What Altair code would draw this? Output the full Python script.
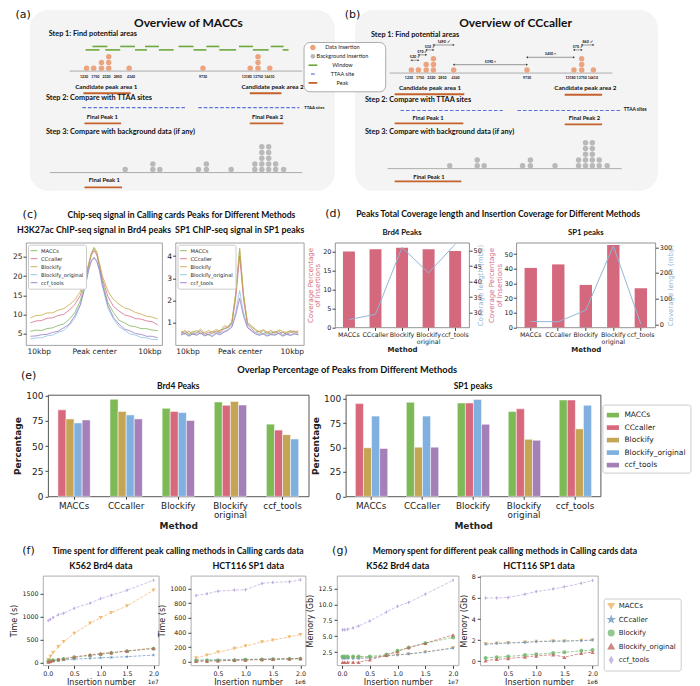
import altair as alt
import pandas as pd

KX, KY = 0.965, 0.985


def sx(v):
    return round(v * KX, 1)


def sy(v):
    return round(v * KY, 1)


# ---------------- categories and colours ----------------
METHODS = ["MACCs", "CCcaller", "Blockify", "Blockify_original", "ccf_tools"]
GROUPS = ["MACCs", "CCcaller", "Blockify", "Blockify original", "ccf_tools"]
LINE_COLORS = ["#7fb85f", "#d7708a", "#c9a94a", "#8ec2e2", "#9a7dc2"]
BAR_COLORS = ["#7db954", "#d8697c", "#c4a555", "#7fb0e0", "#a47fb8"]
RUN_COLORS = ["#f0ae5e", "#5d8fc2", "#6fb86a", "#c0605a", "#b8a2dc"]
STAR = "M0,-1L0.235,-0.324L0.951,-0.309L0.38,0.124L0.588,0.809L0,0.4L-0.588,0.809L-0.38,0.124L-0.951,-0.309L-0.235,-0.324Z"
THIN_DIAMOND = "M0,-1L0.6,0L0,1L-0.6,0Z"
RUN_SHAPES = ["triangle-down", STAR, "circle", "triangle-up", THIN_DIAMOND]
PINK = "#d4697d"
SKY = "#93b6d6"
ORANGE_DOT = "#eba47f"
GREY_DOT = "#b9b9b9"
PEAK_ORANGE = "#c4622c"
WIN_GREEN = "#6da83d"
TTAA_BLUE = "#5b72d8"
LBL_EXPR = "datum.value == 'Blockify original' ? ['Blockify', 'original'] : datum.value"

# ---------------- (a)/(b) schematic data ----------------
INS_POS = [1230, 1750, 2320, 2850, 4340, 9730, 13180, 13750, 14610]
INS_COUNT = [1, 1, 2, 3, 1, 1, 1, 3, 1]
INS_LABEL_X = [1050, 1870, 2690, 3510, 4480, 9730, 12930, 13750, 14570]
BG_POS = [4050, 6070, 6580, 9400, 9980, 11790, 13520, 14030, 14530, 15040, 15620]
BG_COUNT = [1, 2, 1, 1, 2, 1, 2, 5, 5, 2, 1]
WIN_START = [1660, 3690, 5500, 7950, 9980, 12360, 14680, 1160, 2600, 4770, 6510, 9040, 10920, 13380, 15550]
WIN_END = [2750, 4770, 6510, 9040, 10920, 13380, 15620, 2170, 3690, 5640, 7590, 9980, 12150, 14530, 15980]
WIN_LEVEL = [37, 37, 37, 37, 37, 37, 37, 40.5, 40.5, 40.5, 40.5, 40.5, 40.5, 40.5, 40.5]
GAP_FROM = [1230, 1750, 2320, 2850, 4340, 9730, 13180, 13750]
GAP_TO = [1750, 2320, 2850, 4340, 9730, 13180, 13750, 14610]
GAP_LABEL = ["520 ✓", "570 ✓", "530 ✓", "1490 ✓", "5390 ×", "3450 ×", "570 ✓", "860 ✓"]
GAP_LEVEL = [51, 45.5, 40.5, 35.5, 55.5, 48, 40.5, 35.5]

A_LABELS = ["(a)", "Overview of MACCs", "Step 1: Find potential areas", "Candidate peak area 1",
            "Candidate peak area 2", "Step 2: Compare with TTAA sites", "TTAA sites", "Final Peak 1",
            "Final Peak 2", "Step 3: Compare with background data (if any)", "Final Peak 1"]
A_LX = [-3400, 8670, -1530, 2670, 14810, -1740, 17130, 2380, 14450, -1740, 2520]
A_LY = [5, 13, 24, 78.5, 78.5, 89, 99, 109, 109, 124, 173]
A_LSIZE = [11, 12, 7.3, 6.3, 6.3, 7.3, 4.2, 5.8, 5.8, 7.3, 5.8]
LSTYLE = ["letter", "center", "left", "center", "center", "left", "left", "center", "center", "left", "center"]
A_BASE_START = [0, -1450]
A_BASE_END = [16980, 16980]
A_BASE_Y = [62, 165]
A_TTAA_START = [930, 9390]
A_TTAA_END = [8450, 16770]
A_TTAA_Y = [99, 99]
A_UL_START = [1000, 13150, 1075, 13150, 1080]
A_UL_END = [4450, 15460, 3750, 15600, 3820]
A_UL_Y = [84.5, 84.5, 115, 115, 180]

B_LABELS = ["(b)", "Overview of CCcaller", "Step 1: Find potential areas", "Candidate peak area 1",
            "Candidate peak area 2", "Step 2: Compare with TTAA sites", "TTAA sites", "Final Peak 1",
            "Final Peak 2", "Step 3: Compare with background data (if any)", "Final Peak 1"]
B_LX = [-3100, 8885, -1740, 2600, 14020, -2180, 16840, 2450, 13950, -2180, 2520]
B_LY = [5, 13, 25, 79, 79.5, 91, 102, 110, 110, 124, 170]
B_LSIZE = [11, 12, 7.3, 6.3, 6.3, 7.3, 4.8, 5.8, 5.8, 7.3, 5.8]
B_BASE_START = [-370, -510]
B_BASE_END = [16000, 16690]
B_BASE_Y = [64, 161]
B_TTAA_START = [430, 9030]
B_TTAA_END = [7950, 16620]
B_TTAA_Y = [102, 102]
B_UL_START = [0, 12500, 0, 12500, 0]
B_UL_END = [5120, 15250, 5050, 15250, 4900]
B_UL_Y = [85.5, 86, 115, 116, 174]

LEG_LABELS = ["Data Insertion", "Background Insertion", "Window", "TTAA site", "Peak"]
LEG_Y = [38, 47, 56, 65, 74]

# ---------------- (c) ChIP-seq profiles ----------------
C_POS = [-11.5, -10.5, -9.5, -8.5, -7.5, -6.5, -5.5, -4.5, -3.5, -2.5, -1.5, -1.0, -0.5, 0.0,
         0.5, 1.0, 1.5, 2.5, 3.5, 4.5, 5.5, 6.5, 7.5, 8.5, 9.5, 10.5, 11.5]
BRD4_MACCS = [5.6, 5.9, 5.8, 6.3, 6.5, 7.1, 7.5, 8.7, 10.4, 13.5, 18.9, 22.7, 25.8, 27.2, 25.9, 22.4, 18.5, 13.1, 10.5, 8.5, 7.8, 7.0, 6.8, 6.3, 6.3, 5.9, 5.8]
BRD4_CCCALLER = [7.8, 8.3, 8.4, 9.0, 9.1, 9.7, 10.0, 11.1, 12.5, 14.9, 19.6, 22.8, 25.4, 26.6, 25.5, 22.7, 19.3, 14.7, 12.1, 10.9, 9.9, 9.5, 8.9, 8.8, 8.3, 8.1, 7.3]
BRD4_BLOCKIFY = [9.1, 9.7, 9.8, 10.4, 10.4, 11.1, 11.5, 12.5, 13.7, 15.9, 20.1, 23.1, 26.0, 27.5, 26.3, 23.2, 20.1, 16.1, 13.9, 12.7, 11.7, 11.3, 10.5, 10.1, 9.5, 9.3, 8.8]
BRD4_BLOCKIFY_ORIG = [3.6, 3.9, 3.9, 4.4, 4.6, 5.3, 5.8, 7.1, 8.9, 12.3, 17.8, 21.4, 24.0, 25.0, 24.0, 21.2, 17.4, 11.7, 8.8, 6.8, 5.9, 4.9, 4.6, 4.0, 3.9, 3.5, 3.4]
BRD4_CCF = [4.3, 4.4, 4.7, 4.8, 5.3, 5.6, 6.5, 7.4, 9.6, 12.5, 18.0, 21.6, 23.9, 24.7, 23.8, 21.5, 17.8, 12.4, 9.2, 7.5, 6.2, 5.7, 5.0, 4.8, 4.3, 4.3, 3.9]

SP1_POS = [-11.25, -10.5, -9.75, -9.0, -8.25, -7.5, -6.75, -6.0, -5.25, -4.5, -3.75, -3.0, -2.25, -1.5,
           -0.75, 0.0, 0.75, 1.5, 2.25, 3.0, 3.75, 4.5, 5.25, 6.0, 6.75, 7.5, 8.25, 9.0, 9.75, 10.5, 11.25]
SP1_MACCS = [0.52, 0.61, 0.47, 0.56, 0.66, 0.50, 0.58, 0.44, 0.62, 0.53, 0.67, 0.72, 0.80, 1.00, 2.30, 4.30, 2.20, 0.98, 0.82, 0.68, 0.52, 0.66, 0.49, 0.59, 0.53, 0.64, 0.47, 0.57, 0.62, 0.54, 0.60]
SP1_CCCALLER = [0.60, 0.50, 0.63, 0.48, 0.55, 0.65, 0.47, 0.58, 0.52, 0.64, 0.55, 0.76, 0.78, 0.95, 2.10, 4.00, 2.05, 0.92, 0.74, 0.57, 0.63, 0.50, 0.60, 0.48, 0.62, 0.52, 0.58, 0.50, 0.56, 0.63, 0.51]
SP1_BLOCKIFY = [0.58, 0.66, 0.52, 0.62, 0.57, 0.72, 0.55, 0.66, 0.58, 0.70, 0.62, 0.86, 0.84, 1.05, 2.35, 4.35, 2.30, 1.02, 0.88, 0.72, 0.60, 0.70, 0.58, 0.66, 0.55, 0.68, 0.62, 0.57, 0.66, 0.60, 0.64]
SP1_BLOCKIFY_ORIG = [0.48, 0.55, 0.42, 0.52, 0.46, 0.58, 0.44, 0.50, 0.43, 0.56, 0.50, 0.62, 0.70, 0.85, 1.50, 2.45, 1.45, 0.82, 0.66, 0.55, 0.46, 0.54, 0.44, 0.50, 0.47, 0.55, 0.42, 0.50, 0.46, 0.52, 0.48]
SP1_CCF = [0.45, 0.52, 0.40, 0.50, 0.44, 0.54, 0.41, 0.48, 0.38, 0.52, 0.46, 0.58, 0.66, 0.80, 1.35, 2.10, 1.30, 0.78, 0.64, 0.50, 0.44, 0.50, 0.40, 0.47, 0.44, 0.52, 0.40, 0.48, 0.43, 0.50, 0.46]

# ---------------- (d) coverage ----------------
D_BRD4_PCT = [20.0, 20.6, 21.0, 20.6, 20.1]
D_BRD4_LEN = [27.8, 29.5, 51.0, 42.8, 52.0]
D_SP1_PCT = [40.6, 43.0, 29.0, 56.2, 26.8]
D_SP1_LEN = [11, 10, 55, 305, 1]

# ---------------- (e) overlap (4 other methods per group) ----------------
E_BRD4 = [[86, 77, 73, 76], [96.5, 84.5, 81, 77], [87.5, 84.5, 83.3, 75.4], [93.8, 90.5, 94.4, 90.8], [71.8, 65.9, 61.3, 57]]
E_SP1 = [[95, 49.7, 82.2, 49], [96.3, 50.3, 82.2, 50.3], [95.6, 95.6, 99.3, 73.8], [86.9, 89.6, 58.4, 57.4], [98.7, 98.7, 69.1, 93.3]]

# ---------------- (f)/(g) run time and memory ----------------
RUN_X_BRD4 = [100000, 500000, 1000000, 2000000, 3000000, 5000000, 8000000, 10000000, 12000000, 15000000, 20000000]
RUN_X_SP1 = [100000, 300000, 500000, 800000, 1000000, 1300000, 1500000, 1800000, 2000000]
TIME_BRD4 = [
    [60, 130, 210, 340, 450, 630, 850, 970, 1080, 1230, 1570],
    [20, 30, 35, 45, 55, 70, 90, 100, 110, 125, 160],
    [25, 35, 45, 60, 75, 110, 150, 180, 205, 245, 300],
    [10, 20, 40, 65, 80, 120, 165, 190, 215, 250, 310],
    [910, 940, 975, 1040, 1070, 1180, 1290, 1390, 1460, 1570, 1790],
]
TIME_SP1 = [
    [50, 90, 130, 180, 215, 270, 295, 340, 370],
    [25, 26, 28, 30, 32, 36, 38, 42, 46],
    [15, 16, 18, 22, 26, 30, 33, 38, 42],
    [5, 8, 12, 20, 25, 30, 35, 40, 45],
    [905, 930, 965, 980, 985, 1070, 1085, 1095, 1120],
]
MEM_BRD4 = [
    [1.6, 1.6, 1.6, 1.6, 1.6, 1.6, 1.9, 2.0, 2.2, 2.5, 3.2],
    [1.5, 1.5, 1.5, 1.5, 1.5, 1.6, 1.9, 2.1, 2.2, 2.5, 3.1],
    [1.8, 1.8, 1.8, 1.8, 1.8, 1.8, 2.1, 2.7, 3.2, 3.9, 4.8],
    [0.9, 0.9, 0.9, 0.9, 0.9, 1.3, 2.0, 2.6, 3.2, 3.9, 5.2],
    [6.0, 6.0, 6.1, 6.3, 6.6, 7.4, 8.8, 9.7, 10.3, 11.6, 13.8],
]
MEM_SP1 = [
    [1.65, 1.7, 1.75, 1.8, 1.88, 1.92, 1.92, 1.97, 2.0],
    [1.6, 1.68, 1.72, 1.78, 1.85, 1.9, 1.9, 1.95, 2.0],
    [0.3, 0.38, 0.45, 0.58, 0.66, 0.78, 0.85, 0.98, 1.05],
    [0.05, 0.18, 0.25, 0.4, 0.5, 0.62, 0.38, 0.75, 0.85],
    [6.0, 6.0, 6.05, 6.35, 6.6, 6.85, 7.05, 7.4, 7.65],
]

TITLE_C = "Chip-seq signal in Calling cards Peaks for Different Methods"
TITLE_D = "Peaks Total Coverage length and Insertion Coverage for Different Methods"
TITLE_E = "Overlap Percentage of Peaks from Different Methods"
TITLE_F = "Time spent for different peak calling methods in Calling cards data"
TITLE_G = "Memory spent for different peak calling methods in Calling cards data"


# ======================= helpers =======================
def note(text, x, y, size, weight="normal", font="DejaVu Sans", align="center", color="#111"):
    df = pd.DataFrame({"t": [text]})
    return alt.Chart(df).mark_text(font=font, fontSize=size, fontWeight=weight, align=align,
                                   baseline="middle", color=color).encode(
        text="t:N", x=alt.value(x), y=alt.value(y))


def subtitle(text, w, dy, size, dx=0):
    return note(text, w / 2 + dx, dy, size, "bold", "Lato")


def spacer(w):
    return alt.Chart(pd.DataFrame({"v": [0]})).mark_point(size=0, opacity=0).encode(
        x=alt.value(0.5), y=alt.value(0.5)).properties(
        width=w, height=1, view=alt.ViewBackground(stroke="transparent", fill="transparent"))


SCH_X = alt.Scale(domain=[-2900, 19300], nice=False, zero=False)
SCH_Y = alt.Scale(domain=[0, 183], nice=False, zero=False, reverse=True)


def sch_x(f="x"):
    return alt.X(f + ":Q", scale=SCH_X, axis=None)


def sch_y(f="y"):
    return alt.Y(f + ":Q", scale=SCH_Y, axis=None)


def seg_layer(starts, ends, levels, color, width, dash=None):
    df = pd.DataFrame({"x": starts, "x2": ends, "y": levels})
    props = dict(color=color, strokeWidth=width)
    if dash is not None:
        props["strokeDash"] = dash
    return alt.Chart(df).mark_rule(**props).encode(x=sch_x(), x2="x2:Q", y=sch_y())


def stack_layer(pos, counts, base, color, size):
    xs, ys = [], []
    for p, c in zip(pos, counts):
        for k in range(c):
            xs.append(p)
            ys.append(base - 3.0 - 5.8 * k)
    df = pd.DataFrame({"x": xs, "y": ys})
    return alt.Chart(df).mark_circle(color=color, size=size, opacity=1).encode(x=sch_x(), y=sch_y())


def text_layer(labels, xs, ys, sizes, weight="bold", align="center", font="Lato", color="#111"):
    df = pd.DataFrame({"x": xs, "y": ys, "t": labels, "s": sizes})
    return alt.Chart(df).mark_text(font=font, fontWeight=weight, align=align, baseline="middle",
                                   color=color).encode(
        x=sch_x(), y=sch_y(), text="t:N", size=alt.Size("s:Q", scale=None))


def styled_texts(labels, xs, ys, sizes, styles):
    spec = {"letter": ("normal", "center", "DejaVu Sans"),
            "center": ("bold", "center", "Lato"),
            "left": ("bold", "left", "Lato")}
    out = []
    for key, (w, a, f) in spec.items():
        idx = [i for i, s in enumerate(styles) if s == key]
        if idx:
            out.append(text_layer([labels[i] for i in idx], [xs[i] for i in idx],
                                  [ys[i] for i in idx], [sizes[i] for i in idx], w, a, f))
    return out


SCH_VIEW = alt.ViewBackground(fill="#f4f4f4", stroke="#f4f4f4", cornerRadius=18)


def panel_a():
    layers = [
        seg_layer(A_BASE_START, A_BASE_END, A_BASE_Y, "#9a9a9a", 0.8),
        seg_layer(WIN_START, WIN_END, WIN_LEVEL, WIN_GREEN, 1.6),
        seg_layer(A_TTAA_START, A_TTAA_END, A_TTAA_Y, TTAA_BLUE, 1.2, [3.5, 2]),
        seg_layer(A_UL_START, A_UL_END, A_UL_Y, PEAK_ORANGE, 1.8),
        stack_layer(INS_POS, INS_COUNT, 62, ORANGE_DOT, 30),
        stack_layer(BG_POS, BG_COUNT, 165, GREY_DOT, 30),
        text_layer([str(p) for p in INS_POS], INS_LABEL_X, [67.5] * len(INS_POS), [3.5] * len(INS_POS)),
    ] + styled_texts(A_LABELS, A_LX, A_LY, A_LSIZE, LSTYLE)
    return alt.layer(*layers).properties(width=sx(315), height=sy(183), view=SCH_VIEW)


def panel_b():
    mids = [(a + b) / 2 for a, b in zip(GAP_FROM, GAP_TO)]
    heads = pd.DataFrame({"x": GAP_FROM + GAP_TO, "y": GAP_LEVEL + GAP_LEVEL,
                          "sh": ["triangle-left"] * len(GAP_FROM) + ["triangle-right"] * len(GAP_TO)})
    head_layer = alt.Chart(heads).mark_point(filled=True, color="#3a3a3a", size=5, opacity=1).encode(
        x=sch_x(), y=sch_y(), shape=alt.Shape("sh:N", scale=None))
    leg_box = alt.Chart(pd.DataFrame({"x": [-6660], "x2": [-660], "y": [33], "y2": [83]})).mark_rect(
        fill="white", stroke="#8a8a8a", strokeWidth=0.7, cornerRadius=6).encode(
        x=sch_x(), x2="x2:Q", y=sch_y(), y2="y2:Q")
    leg_dots = alt.Chart(pd.DataFrame({"x": [-6010, -6010], "y": LEG_Y[:2], "c": [ORANGE_DOT, GREY_DOT],
                                       "s": [30, 22]})).mark_circle(opacity=1).encode(
        x=sch_x(), y=sch_y(), color=alt.Color("c:N", scale=None), size=alt.Size("s:Q", scale=None))
    layers = [
        seg_layer(B_BASE_START, B_BASE_END, B_BASE_Y, "#9a9a9a", 0.8),
        seg_layer(B_TTAA_START, B_TTAA_END, B_TTAA_Y, TTAA_BLUE, 1.2, [3.5, 2]),
        seg_layer(B_UL_START, B_UL_END, B_UL_Y, PEAK_ORANGE, 1.8),
        seg_layer(GAP_FROM, GAP_TO, GAP_LEVEL, "#3a3a3a", 0.5),
        head_layer,
        text_layer(GAP_LABEL, mids, [v - 3.2 for v in GAP_LEVEL], [3.6] * len(GAP_LABEL)),
        stack_layer(INS_POS, INS_COUNT, 64, ORANGE_DOT, 30),
        stack_layer(BG_POS, BG_COUNT, 161, GREY_DOT, 30),
        text_layer([str(p) for p in INS_POS], INS_LABEL_X, [69.5] * len(INS_POS), [3.5] * len(INS_POS)),
        leg_box,
        leg_dots,
        seg_layer([-6330], [-5690], [LEG_Y[2]], WIN_GREEN, 1.6),
        seg_layer([-6150], [-5870], [LEG_Y[3]], TTAA_BLUE, 1.2),
        seg_layer([-6330], [-5690], [LEG_Y[4]], PEAK_ORANGE, 1.8),
        text_layer(LEG_LABELS, [-3840] * 5, LEG_Y, [5.5] * 5, "normal", "center", "Lato", "#222"),
    ] + styled_texts(B_LABELS, B_LX, B_LY, B_LSIZE, LSTYLE)
    return alt.layer(*layers).properties(width=sx(313), height=sy(183), view=SCH_VIEW)


def profile(field, xs, series, ydom, yticks, title, w, h, extra, sub_dx=0):
    rows = []
    for m, vals in zip(METHODS, series):
        for x, v in zip(xs, vals):
            rows.append({"pos": x, "val": v, field: m})
    df = pd.DataFrame(rows)
    lines = alt.Chart(df).mark_line(strokeWidth=0.9, opacity=0.9).encode(
        x=alt.X("pos:Q", scale=alt.Scale(domain=[-12.3, 12.3], nice=False, zero=False),
                axis=alt.Axis(values=[-10, 0, 10], labelExpr="datum.value == 0 ? 'Peak center' : '10kbp'",
                              title=None, tickSize=0, labelPadding=2, labelFontSize=7.5)),
        y=alt.Y("val:Q", scale=alt.Scale(domain=ydom, nice=False, zero=False),
                axis=alt.Axis(values=yticks, title=None, labelFontSize=7.5, tickSize=3, labelPadding=1)),
        color=alt.Color(field + ":N", scale=alt.Scale(domain=METHODS, range=LINE_COLORS),
                        legend=alt.Legend(title=None, orient="top-left", offset=2, fillColor="white",
                                          strokeColor="#cccccc", padding=2, cornerRadius=2,
                                          symbolType="stroke", symbolSize=45, symbolStrokeWidth=1,
                                          labelFontSize=5.2, rowPadding=0, labelOffset=3)),
    )
    return alt.layer(lines, subtitle(title, w, sy(-13), 8.8, sub_dx), *extra).properties(
        width=w, height=h, view=alt.ViewBackground(stroke="#8a8a8a", strokeWidth=0.8))


def coverage(title, pct, length, pdom, pticks, ldom, lticks, w, h, extra):
    df = pd.DataFrame({"group": GROUPS, "pct": pct, "len": length})
    xenc = alt.X("group:N", sort=GROUPS, scale=alt.Scale(paddingInner=0.55, paddingOuter=0.3),
                 axis=alt.Axis(title="Method", labelAngle=0, labelExpr=LBL_EXPR, labelFontSize=6.3,
                               labelLineHeight=7, titleFontSize=7, titleFontWeight="bold", tickSize=3,
                               labelPadding=1, titlePadding=1))
    bars = alt.Chart(df).mark_bar(color=PINK).encode(
        x=xenc,
        y=alt.Y("pct:Q", scale=alt.Scale(domain=pdom, nice=False, zero=False),
                axis=alt.Axis(values=pticks, title=["Coverage Percentage", "of Insertions"], titleColor=PINK,
                              titleFontSize=7, titleLineHeight=7.5, labelFontSize=6.5, tickSize=3,
                              labelPadding=1, titlePadding=2)))
    line = alt.Chart(df).mark_line(color=SKY, strokeWidth=1).encode(
        x=xenc,
        y=alt.Y("len:Q", scale=alt.Scale(domain=ldom, nice=False, zero=False),
                axis=alt.Axis(orient="right", values=lticks, title="Coverage length (mbp)", titleColor=SKY,
                              titleAngle=270, titleFontSize=7, labelFontSize=6.5, tickSize=3,
                              labelPadding=1, titlePadding=2)))
    return alt.layer(bars, line, subtitle(title, w, sy(-10), 7.8), *extra).resolve_scale(
        y="independent").properties(width=w, height=h,
                                    view=alt.ViewBackground(stroke="#777777", strokeWidth=0.8))


def overlap(field, vals, ydom, w, h, title, legend, extra):
    rows = []
    for gi, g in enumerate(GROUPS):
        slot = 0
        for mi, m in enumerate(METHODS):
            if mi == gi:
                continue
            rows.append({"group": g, field: m, "slot": slot, "value": vals[gi][slot]})
            slot += 1
    df = pd.DataFrame(rows)
    bars = alt.Chart(df).mark_bar(stroke="white", strokeWidth=0.5).encode(
        x=alt.X("group:N", sort=GROUPS, scale=alt.Scale(paddingInner=0.38, paddingOuter=0.19),
                axis=alt.Axis(title="Method", labelAngle=0, labelExpr=LBL_EXPR, labelFontSize=8.8,
                              labelLineHeight=9.5, titleFontSize=9, titleFontWeight="bold", tickSize=3,
                              labelPadding=2, titlePadding=2)),
        xOffset=alt.XOffset("slot:N", scale=alt.Scale(paddingInner=0.0)),
        y=alt.Y("value:Q", scale=alt.Scale(domain=ydom, nice=False, zero=False),
                axis=alt.Axis(values=[0, 25, 50, 75, 100], title="Percentage", titleFontWeight="bold",
                              titleFontSize=9, labelFontSize=9, tickSize=3, labelPadding=2, titlePadding=3)),
        color=alt.Color(field + ":N", scale=alt.Scale(domain=METHODS, range=BAR_COLORS), legend=legend),
    )
    return alt.layer(bars, subtitle(title, w, sy(-9), 8.5), *extra).properties(
        width=w, height=h, view=alt.ViewBackground(stroke="#444444", strokeWidth=0.9))


def runtime(field, xs, series, xdom, xticks, xexp, ydom, yticks, yfmt, ytitle, title, w, h, legend, extra):
    rows = []
    for m, vals in zip(METHODS, series):
        for x, v in zip(xs, vals):
            rows.append({"x": x, "y": v, field: m})
    df = pd.DataFrame(rows)
    xenc = alt.X("x:Q", scale=alt.Scale(domain=xdom, nice=False, zero=False),
                 axis=alt.Axis(values=xticks, labelExpr="format(datum.value / " + xexp + ", '.1f')",
                               title="Insertion number", titleFontSize=8, labelFontSize=6.3, tickSize=3,
                               labelPadding=2, titlePadding=2))
    yenc = alt.Y("y:Q", scale=alt.Scale(domain=ydom, nice=False, zero=False),
                 axis=alt.Axis(values=yticks, format=yfmt, title=ytitle, titleFontSize=8, labelFontSize=6.3,
                               tickSize=3, labelPadding=2, titlePadding=3))
    color = alt.Color(field + ":N", scale=alt.Scale(domain=METHODS, range=RUN_COLORS), legend=legend)
    shape = alt.Shape(field + ":N", scale=alt.Scale(domain=METHODS, range=RUN_SHAPES), legend=legend)
    line = alt.Chart(df).mark_line(strokeWidth=0.9, strokeDash=[3, 1.5], opacity=0.75).encode(
        x=xenc, y=yenc, color=color)
    pts = alt.Chart(df).mark_point(filled=True, size=16, opacity=0.85).encode(
        x=xenc, y=yenc, color=color, shape=shape)
    offset_lbl = note("1e" + xexp[-1], w, h + 17, 5.8, align="right")
    return alt.layer(line, pts, offset_lbl, subtitle(title, w, sy(-10), 9), *extra).properties(
        width=w, height=h, view=alt.ViewBackground(stroke="#9a9a9a", strokeWidth=0.8))


def indep(ch):
    return ch.resolve_scale(color="independent", shape="independent").resolve_legend(
        color="independent", shape="independent")


def stack(upper, lower, gap):
    return indep(alt.concat(upper, lower, columns=1, align="none", spacing=gap))


# ======================= build panels =======================
ab = indep(alt.hconcat(panel_a(), panel_b(), spacing=sx(22), bounds="flush"))
row1 = indep(alt.hconcat(spacer(4.8), ab, spacing=0))

c_left = profile("m_c1", C_POS, [BRD4_MACCS, BRD4_CCCALLER, BRD4_BLOCKIFY, BRD4_BLOCKIFY_ORIG, BRD4_CCF],
                 [2, 28.7], [5, 10, 15, 20, 25], "H3K27ac ChIP-seq signal in Brd4 peaks", sx(141), sy(104),
                 [note("(c)", sx(4), sy(-28), 11), note(TITLE_C, sx(161), sy(-28), 8.6, "bold", "Lato")])
c_right = profile("m_c2", SP1_POS, [SP1_MACCS, SP1_CCCALLER, SP1_BLOCKIFY, SP1_BLOCKIFY_ORIG, SP1_CCF],
                  [0, 4.6], [1, 2, 3, 4], "SP1 ChIP-seq signal in SP1 peaks", sx(133), sy(104), [], 0)
group_c = indep(alt.hconcat(c_left, c_right, spacing=sx(13), bounds="flush"))

d_left = coverage("Brd4 Peaks", D_BRD4_PCT, D_BRD4_LEN, [0, 22.3], [0, 5, 10, 15, 20], [25.3, 52.5],
                  [30, 35, 40, 45, 50], sx(139), sy(86),
                  [note("(d)", sx(-2), sy(-29), 11), note(TITLE_D, sx(169), sy(-29), 8.6, "bold", "Lato")])
d_right = coverage("SP1 peaks", D_SP1_PCT, D_SP1_LEN, [0, 57.8], [0, 10, 20, 30, 40, 50], [-12, 318],
                   [0, 100, 200, 300], sx(144), sy(86), [])
group_d = indep(alt.hconcat(d_left, d_right, spacing=sx(48), bounds="flush"))
row2 = indep(alt.hconcat(spacer(1.9), group_c, group_d, spacing=0))

e_legend = alt.Legend(title=None, orient="none", legendX=sx(266), legendY=sy(10),
                      symbolType="M-1,-0.38H1V0.38H-1Z", symbolSize=150, symbolStrokeWidth=0,
                      labelFontSize=7.5, fillColor="white", strokeColor="#cccccc", padding=4,
                      rowPadding=2.5, cornerRadius=2, labelOffset=5)
e_left = overlap("m_e1", E_BRD4, [0, 101], sx(270), sy(103), "Brd4 Peaks", None,
                 [note("(e)", sx(-20), sy(-19), 11), note(TITLE_E, sx(310), sy(-25), 9.3, "bold", "Lato")])
e_right = overlap("m_e2", E_SP1, [0, 104], sx(264), sy(103), "SP1 peaks", e_legend, [])
e_pair = indep(alt.hconcat(e_left, e_right, spacing=sx(38), bounds="flush"))
row3 = indep(alt.hconcat(spacer(3.6), e_pair, spacing=0))

g_legend = alt.Legend(title=None, orient="none", legendX=sx(128), legendY=sy(23), symbolSize=30,
                      labelFontSize=7, fillColor="white", strokeColor="#cccccc", padding=4, rowPadding=1.5,
                      cornerRadius=2, labelOffset=4)
f_left = runtime("m_f1", RUN_X_BRD4, TIME_BRD4, [-900000, 21000000], [0, 5000000, 10000000, 15000000, 20000000],
                 "1e7", [-65, 1885], [0, 500, 1000, 1500], "d", "Time (s)", "K562 Brd4 data", sx(120), sy(91),
                 None, [note("(f)", sx(-15), sy(-25), 11), note(TITLE_F, sx(140), sy(-25), 8.6, "bold", "Lato")])
f_right = runtime("m_f2", RUN_X_SP1, TIME_SP1, [5000, 2095000], [500000, 1000000, 1500000, 2000000],
                  "1e6", [-50, 1175], [0, 200, 400, 600, 800, 1000], "d", "Time (s)", "HCT116 SP1 data",
                  sx(119), sy(91), None, [])
group_f = indep(alt.hconcat(f_left, f_right, spacing=sx(33), bounds="flush"))
g_left = runtime("m_g1", RUN_X_BRD4, MEM_BRD4, [-900000, 21000000], [0, 5000000, 10000000, 15000000, 20000000],
                 "1e7", [0.4, 14.5], [2.5, 5, 7.5, 10, 12.5], ".1f", "Memory (Gb)", "K562 Brd4 data", sx(126),
                 sy(91), None, [note("(g)", sx(3), sy(-25), 11), note(TITLE_G, sx(174), sy(-25), 8.6, "bold", "Lato")])
g_right = runtime("m_g2", RUN_X_SP1, MEM_SP1, [5000, 2095000], [500000, 1000000, 1500000, 2000000],
                  "1e6", [-0.4, 8.1], [0, 2, 4, 6, 8], "d", "Memory (Gb)", "HCT116 SP1 data", sx(122), sy(91),
                  g_legend, [])
group_g = indep(alt.hconcat(g_left, g_right, spacing=sx(22), bounds="flush"))
row4 = indep(alt.hconcat(spacer(0.5), group_f, group_g, spacing=0))

chart = stack(stack(stack(row1, row2, sy(17)), row3, sy(10)), row4, sy(13)).properties(padding=0)

chart = chart.configure_axis(
    labelFont="DejaVu Sans", titleFont="DejaVu Sans", labelColor="#222222", titleColor="#222222",
    tickColor="#444444", domain=False, grid=False, titleFontWeight="normal"
).configure_legend(
    labelFont="DejaVu Sans", labelColor="#222222"
).configure_view(stroke="#777777", strokeWidth=0.8)

chart.save("out.html", embed_options={"renderer": "svg", "actions": False})
